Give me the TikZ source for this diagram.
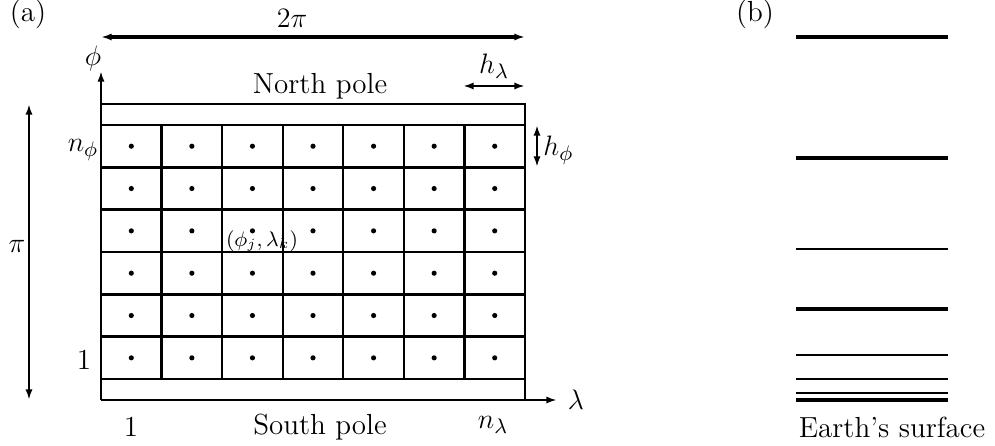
\documentclass[tikz,border=0pt]{standalone}
\usetikzlibrary{arrows.meta}
\begin{document}
\begin{tikzpicture}[x=0.427pt,y=-0.427pt,
  every node/.style={font=\fontsize{12.4pt}{15pt}\selectfont},
  gridline/.style={line width=1pt},
  thickgrid/.style={line width=1.4pt},
  arr/.style={line width=1pt,-{Latex[length=4.5pt,width=3pt]}},
  darr/.style={line width=1pt,{Latex[length=4.5pt,width=3pt]}-{Latex[length=4.5pt,width=3pt]}},
  lay/.style={line width=1pt},
  thicklay/.style={line width=1.4pt},
  lbl/.style={inner sep=0pt}]
\useasboundingbox (0,0) rectangle (995,446);
% panel labels
\node[lbl] (pa) at (28,14) {(a)};
\node[lbl] (pb) at (755,14) {(b)};
% grid
\foreach \i in {0,...,7} {
  \draw[gridline] ({101+\i*60.57},125) -- ({101+\i*60.57},379);
}
\foreach \j in {0,2,3,5,6} {
  \draw[gridline] (101,{125+\j*42.33}) -- (525,{125+\j*42.33});
}
\foreach \j in {1,4} {
  \draw[thickgrid] (101,{125+\j*42.33}) -- (525,{125+\j*42.33});
}
\draw[gridline] (101,104) -- (525,104) -- (525,400);
\foreach \i in {0,...,6} {
  \foreach \j in {0,...,5} {
    \fill ({131.3+\i*60.57},{146.2+\j*42.33}) circle (1.1pt);
  }
}
% axes
\coordinate (O) at (101,400);
\coordinate (phitop) at (101,71);
\coordinate (lamend) at (557,400);
\draw[arr] (O) -- (phitop);
\draw[arr] (O) -- (lamend);
\node[lbl] (phi) at (93,58) {$\phi$};
\node[lbl] (lam) at (576,400) {$\lambda$};
% 2pi arrow
\coordinate (tl) at (101,37);
\coordinate (tr) at (525,37);
\draw[darr,line width=1.4pt] (tl) -- (tr);
\node[lbl] (twopi) at (292,18) {$2\pi$};
% pi arrow
\coordinate (pt) at (29,104);
\coordinate (pbm) at (29,400);
\draw[darr] (pt) -- (pbm);
\node[lbl] (pi) at (17,246) {$\pi$};
% h_lambda
\coordinate (hl1) at (463,86);
\coordinate (hl2) at (525,86);
\draw[darr] (hl1) -- (hl2);
\node[lbl] (hlam) at (494,66) {$h_\lambda$};
% h_phi
\coordinate (hp1) at (537,125);
\coordinate (hp2) at (537,167);
\draw[darr] (hp1) -- (hp2);
\node[lbl,anchor=west] (hphi) at (543,150) {$h_\phi$};
% labels
\node[lbl] (np) at (320,86) {North pole};
\node[lbl] (sp) at (320,427) {South pole};
\node[lbl] (one1) at (131,427) {1};
\node[lbl] (nlam) at (493,425) {$n_\lambda$};
\node[lbl] (nphi) at (83,150) {$n_\phi$};
\node[lbl] (one2) at (84,360) {1};
\node[lbl,font=\fontsize{8.7pt}{10pt}\selectfont] (pjk) at (262,241) {$(\phi_j,\lambda_k)$};
% panel (b)
\draw[thicklay] (796,37) -- (948,37);
\draw[thicklay] (796,158) -- (948,158);
\draw[lay] (796,249) -- (948,249);
\draw[thicklay] (796,309) -- (948,309);
\draw[lay] (796,355) -- (948,355);
\draw[lay] (796,379) -- (948,379);
\draw[lay] (796,393) -- (948,393);
\draw[thicklay] (796,400) -- (948,400);
\node[lbl] (es) at (892,427) {Earth's surface};
\end{tikzpicture}
\end{document}
